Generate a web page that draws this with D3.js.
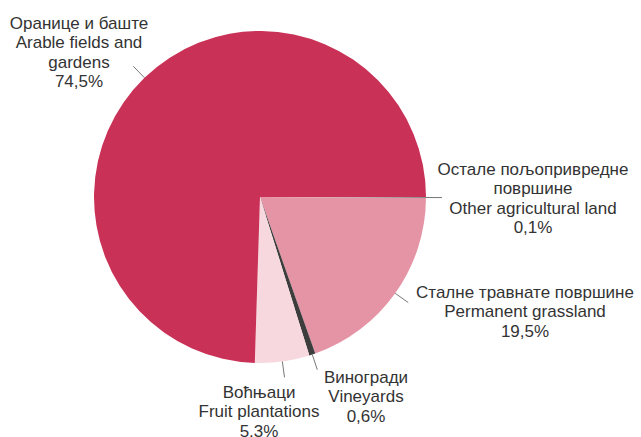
<!DOCTYPE html>
<html>
<head>
<meta charset="utf-8">
<script src="https://cdn.jsdelivr.net/npm/d3@7"></script>
<style>
  body { margin: 0; background: #fff; }
  text { font-family: "Liberation Sans", Arial, sans-serif; fill: #333; }
</style>
</head>
<body>
<div id="chart-area"></div>
<script>
var width = 641, height = 437;

// data, clockwise from 3 o'clock
var categories = ["other", "grassland", "vineyards", "fruit", "arable"];
var shares = [0.1, 19.5, 0.6, 5.3, 74.5];
var colors = ["#8a8a8a", "#e594a6", "#3d3d3d", "#f7d8de", "#c93157"];
var labelLines = [
  ["Остале пољопривредне", "површине", "Other agricultural land", "0,1%"],
  ["Сталне травнате површине", "Permanent grassland", "19,5%"],
  ["Виногради", "Vineyards", "0,6%"],
  ["Воћњаци", "Fruit plantations", "5,3%"],
  ["Оранице и баште", "Arable fields and", "gardens", "74,5%"]
];
// label anchor (x center, first baseline)
var labelPos = [[533, 175], [525, 298], [366, 383], [259, 398], [79, 29]];

var cx = 260, cy = 197, radius = 166;

var data = categories.map(function (c, i) {
  return {name: c, value: shares[i], color: colors[i], lines: labelLines[i], pos: labelPos[i]};
});

var svg = d3.select("#chart-area")
  .append("svg")
  .attr("width", width)
  .attr("height", height);

var g = svg.append("g")
  .attr("transform", "translate(" + cx + "," + cy + ")");

var pie = d3.pie()
  .sort(null)
  .value(function (d) { return d.value; })
  .startAngle(Math.PI / 2)
  .endAngle(Math.PI / 2 + 2 * Math.PI);

var arc = d3.arc().innerRadius(0).outerRadius(radius);
var arcs = pie(data);

g.selectAll("path.slice")
  .data(arcs)
  .enter()
  .append("path")
  .attr("class", "slice")
  .attr("d", arc)
  .attr("fill", function (d) { return d.data.color; });

// leader lines
var inner = d3.arc().innerRadius(radius).outerRadius(radius);
var outer = d3.arc().innerRadius(radius + 16).outerRadius(radius + 16);

g.selectAll("line.leader")
  .data(arcs)
  .enter()
  .append("line")
  .attr("class", "leader")
  .attr("x1", function (d) { return inner.centroid(d)[0]; })
  .attr("y1", function (d) { return inner.centroid(d)[1]; })
  .attr("x2", function (d) { return outer.centroid(d)[0]; })
  .attr("y2", function (d) { return outer.centroid(d)[1]; })
  .attr("stroke", "#777")
  .attr("stroke-width", 1);

// labels
var labels = svg.selectAll("text.label")
  .data(data)
  .enter()
  .append("text")
  .attr("class", "label")
  .attr("text-anchor", "middle")
  .style("font-size", "17px");

labels.selectAll("tspan")
  .data(function (d) {
    return d.lines.map(function (l, i) { return {t: l, i: i, pos: d.pos}; });
  })
  .enter()
  .append("tspan")
  .attr("x", function (d) { return d.pos[0]; })
  .attr("y", function (d) { return d.pos[1] + d.i * 19.3; })
  .text(function (d) { return d.t; });
</script>
</body>
</html>
